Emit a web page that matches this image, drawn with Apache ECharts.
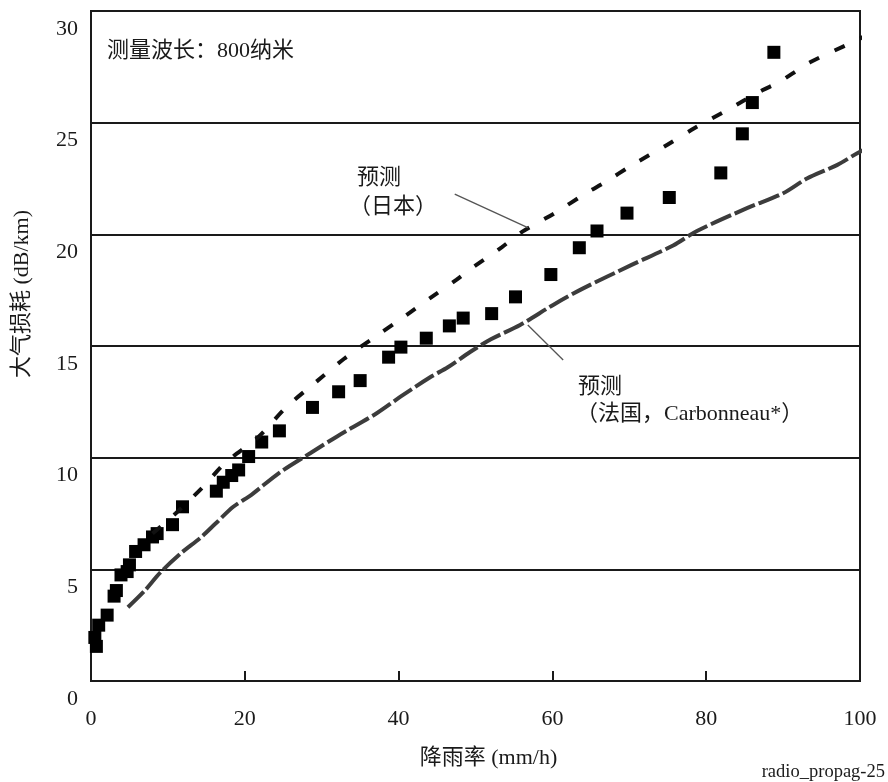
<!DOCTYPE html>
<html>
<head>
<meta charset="utf-8">
<script src="https://cdn.jsdelivr.net/npm/echarts@6/dist/echarts.min.js"></script>
<style>
html,body{margin:0;padding:0;background:#fff;}
#chart{width:888px;height:782px;}
</style>
</head>
<body>
<div id="chart"></div>
<script>
// ---- data ----
const xTickValues = [0, 20, 40, 60, 80, 100];
const yTickValues = [0, 5, 10, 15, 20, 25, 30];

const measuredX = [0.5, 0.7, 1.0, 2.1, 3.0, 3.3, 3.9, 4.7, 5.0, 5.8, 6.9, 8.0, 8.6, 10.6, 11.9, 16.3, 17.2, 18.3, 19.2, 20.5, 22.2, 24.5, 28.8, 32.2, 35.0, 38.7, 40.3, 43.6, 46.6, 48.4, 52.1, 55.2, 59.8, 63.5, 65.8, 69.7, 75.2, 81.9, 84.7, 86.0, 88.8];
const measuredY = [1.95, 1.55, 2.5, 2.95, 3.8, 4.05, 4.75, 4.9, 5.2, 5.8, 6.1, 6.45, 6.6, 7.0, 7.8, 8.5, 8.9, 9.2, 9.45, 10.05, 10.7, 11.2, 12.25, 12.95, 13.45, 14.5, 14.95, 15.35, 15.9, 16.25, 16.45, 17.2, 18.2, 19.4, 20.15, 20.95, 21.65, 22.75, 24.5, 25.9, 28.15];

const japanX = [8, 11, 14.6, 17.4, 21.8, 25.4, 29.3, 33, 36.7, 39.8, 44.7, 47.5, 49.5, 53.4, 56.1, 60.3, 64.4, 66.6, 70.6, 74.5, 78.5, 82.4, 87.3, 89.4, 93.5, 98.4, 102];
const japanY = [6.6, 7.5, 8.7, 9.75, 10.94, 12.26, 13.4, 14.45, 15.35, 16.09, 17.29, 17.96, 18.48, 19.42, 20.12, 20.95, 21.85, 22.28, 23.15, 23.92, 24.76, 25.5, 26.45, 26.8, 27.7, 28.5, 29.1];

const franceX = [4.8, 7, 9, 11.8, 14.2, 16.2, 18.5, 20.9, 24.4, 28.5, 32, 37.2, 40.2, 44.1, 46.4, 49.3, 52, 55.8, 60.1, 64, 70.3, 75.7, 78.8, 85.3, 90, 93.1, 97, 100, 102.6];
const franceY = [3.3, 4.05, 4.85, 5.75, 6.4, 7.05, 7.8, 8.35, 9.3, 10.2, 10.95, 12.0, 12.72, 13.6, 14.05, 14.73, 15.3, 15.94, 16.84, 17.58, 18.63, 19.5, 20.15, 21.17, 21.84, 22.5, 23.1, 23.7, 24.1];

const texts = {
  xName: '降雨率 (mm/h)',
  yName: '大气损耗 (dB/km)',
  wave: '测量波长：800纳米',
  jp1: '预测',
  jp2: '（日本）',
  fr1: '预测',
  fr2: '（法国，Carbonneau*）',
  src: 'radio_propag-25'
};

const zip = (xs, ys) => xs.map((x, i) => [x, ys[i]]);
const FONT = "'Liberation Serif', 'Noto Sans CJK SC', serif";
const INK = '#1a1a1a';

const chart = echarts.init(document.getElementById('chart'), null, {renderer: 'canvas'});
chart.setOption({
  backgroundColor: '#fff',
  animation: false,
  grid: {left: 91, right: 28, top: 11, bottom: 101, show: true, borderColor: INK, borderWidth: 2, backgroundColor: 'transparent'},
  xAxis: {
    type: 'value', min: 0, max: 100, interval: 20,
    name: texts.xName, nameLocation: 'middle', nameGap: 66,
    nameTextStyle: {fontFamily: FONT, fontSize: 22, color: INK, padding: [0, 0, 0, 26]},
    axisLine: {show: true, lineStyle: {color: INK, width: 2}},
    axisTick: {show: true, inside: true, length: 10, lineStyle: {color: INK, width: 2}},
    axisLabel: {fontFamily: FONT, fontSize: 22, color: INK, margin: 27},
    splitLine: {show: false}
  },
  yAxis: {
    type: 'value', min: 0, max: 30, interval: 5,
    axisLine: {show: true, lineStyle: {color: INK, width: 2}},
    axisTick: {show: false},
    axisLabel: {fontFamily: FONT, fontSize: 22, color: INK, margin: 13, verticalAlign: 'top', lineHeight: 36},
    splitLine: {show: true, lineStyle: {color: INK, width: 1.8}}
  },
  graphic: [
    {type: 'text', x: 22, y: 294, rotation: Math.PI / 2, style: {text: texts.yName, fontFamily: FONT, fontSize: 22, fill: INK, align: 'center', verticalAlign: 'middle'}},
    {type: 'text', x: 107, y: 51, style: {text: texts.wave, fontFamily: FONT, fontSize: 22, fill: INK, align: 'left', verticalAlign: 'middle'}},
    {type: 'text', x: 357, y: 178, style: {text: texts.jp1, fontFamily: FONT, fontSize: 22, fill: INK, align: 'left', verticalAlign: 'middle'}},
    {type: 'text', x: 349, y: 207, style: {text: texts.jp2, fontFamily: FONT, fontSize: 22, fill: INK, align: 'left', verticalAlign: 'middle'}},
    {type: 'text', x: 578, y: 387, style: {text: texts.fr1, fontFamily: FONT, fontSize: 22, fill: INK, align: 'left', verticalAlign: 'middle'}},
    {type: 'text', x: 576, y: 414, style: {text: texts.fr2, fontFamily: FONT, fontSize: 22, fill: INK, align: 'left', verticalAlign: 'middle'}},
    {type: 'text', x: 885, y: 772, style: {text: texts.src, fontFamily: FONT, fontSize: 18.5, fill: INK, align: 'right', verticalAlign: 'middle'}}
  ],
  series: [
    {
      name: 'France', type: 'line', data: zip(franceX, franceY), showSymbol: false, clip: false, smooth: 0.3,
      lineStyle: {color: '#3c3c3c', width: 4, type: [22, 4]},
      markLine: {silent: true, symbol: ['none', 'none'], label: {show: false},
        lineStyle: {color: '#555', width: 1.3, type: 'solid'},
        data: [[{coord: [56.8, 15.94]}, {coord: [61.4, 14.37]}]]}
    },
    {
      name: 'Japan', type: 'line', data: zip(japanX, japanY), showSymbol: false, clip: false, smooth: 0.3,
      lineStyle: {color: '#111', width: 4, type: [11, 17]},
      markLine: {silent: true, symbol: ['none', 'none'], label: {show: false},
        lineStyle: {color: '#555', width: 1.3, type: 'solid'},
        data: [[{coord: [47.3, 21.8]}, {coord: [56.8, 20.3]}]]}
    },
    {
      name: 'Measured', type: 'scatter', data: zip(measuredX, measuredY), symbol: 'rect', symbolSize: 13,
      itemStyle: {color: '#000', opacity: 1}
    }
  ]
});
</script>
</body>
</html>
